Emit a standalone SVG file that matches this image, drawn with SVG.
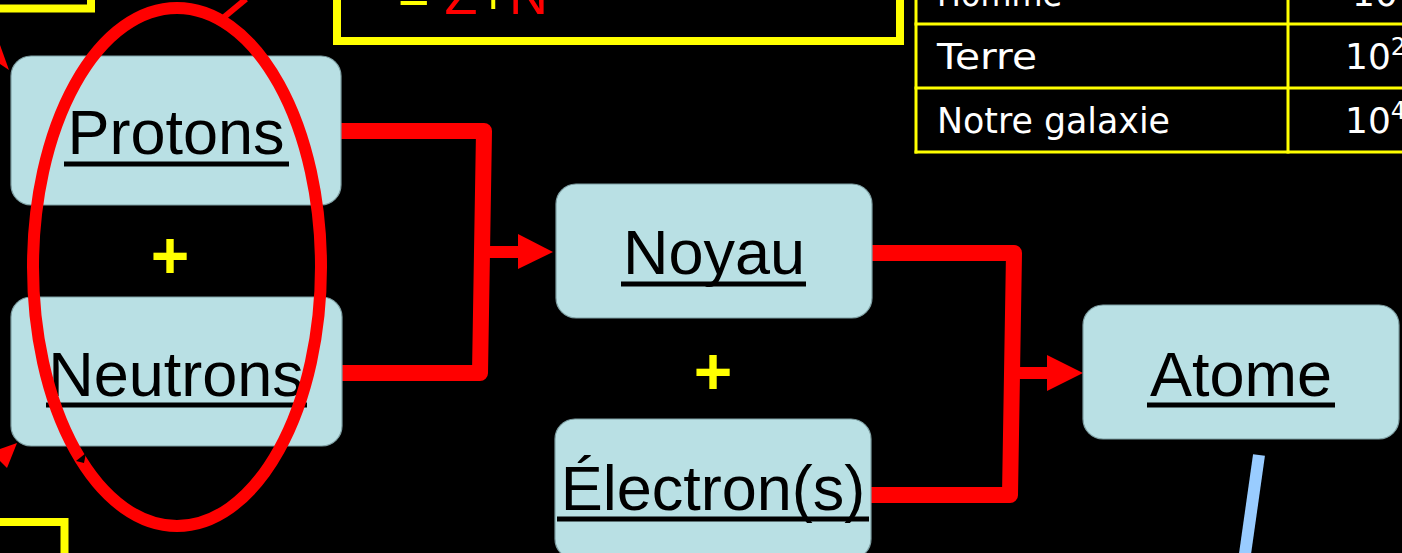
<svg xmlns="http://www.w3.org/2000/svg" width="1402" height="553" viewBox="0 0 1402 553">
<style>
.box{fill:#B9E0E4;stroke:#7E9FA3;stroke-width:1.2}
.lbl{font-family:"Liberation Sans",Arial,sans-serif;font-size:63px;fill:#000;text-anchor:middle}
.ul{stroke:#000;stroke-width:5}
.plus{font-family:"Liberation Sans",Arial,sans-serif;font-size:66px;font-weight:bold;fill:#FFFF00;text-anchor:middle}
.conn{fill:none;stroke:#FF0000;stroke-width:16;stroke-linejoin:round}
.stem{stroke:#FF0000;stroke-width:12}
.head{fill:#FF0000}
.yb{fill:none;stroke:#FFFF00;stroke-width:8}
.tl{stroke:#FFFF00;stroke-width:3}
.tt{font-family:"DejaVu Sans",sans-serif;font-size:36px;fill:#FFFFFF}
</style>
<rect x="0" y="0" width="1402" height="553" fill="#000"/>

<!-- background slide fragments -->
<g id="yellow-box-topleft"><rect class="yb" x="-100" y="-100" width="191" height="108.5"/></g>
<g id="yellow-box-top">
<rect class="yb" x="337" y="-100" width="563" height="141"/>
<text x="398" y="14" font-family="Liberation Sans,Arial,sans-serif" font-size="54"><tspan fill="#FFFF00">= </tspan><tspan fill="#FF0000">Z</tspan><tspan fill="#FFFF00">+</tspan><tspan fill="#FF0000">N</tspan></text>
</g>
<g id="yellow-box-bottomleft"><rect class="yb" x="-100" y="522" width="164.5" height="100"/></g>

<g id="table">
<line class="tl" x1="916" y1="0" x2="916" y2="153.5"/>
<line class="tl" x1="1288" y1="0" x2="1288" y2="153.5"/>
<line class="tl" x1="914.5" y1="24" x2="1402" y2="24"/>
<line class="tl" x1="914.5" y1="88" x2="1402" y2="88"/>
<line class="tl" x1="914.5" y1="152" x2="1402" y2="152"/>
<text class="tt" x="937" y="6" textLength="125" lengthAdjust="spacingAndGlyphs">Homme</text>
<text class="tt" x="937" y="69" textLength="100" lengthAdjust="spacingAndGlyphs">Terre</text>
<text class="tt" x="937" y="133" textLength="233" lengthAdjust="spacingAndGlyphs">Notre galaxie</text>
<text class="tt" x="1352" y="6">10</text>
<text class="tt" x="1345" y="69">10<tspan font-size="24" dy="-14">25</tspan></text>
<text class="tt" x="1345" y="133">10<tspan font-size="24" dy="-14">4</tspan></text>
</g>

<!-- connectors -->
<g id="connectors">
<path class="conn" d="M341,131 L484,131 L480,373 L341,373"/>
<line class="stem" x1="482" y1="252" x2="520" y2="252"/>
<polygon class="head" points="518,234 553,252 518,269"/>
<path class="conn" d="M872,253 L1014,253 L1010,495 L871,495"/>
<line class="stem" x1="1012" y1="373" x2="1049" y2="373"/>
<polygon class="head" points="1047,355 1083,373 1047,391"/>
</g>

<g id="node-protons">
<rect class="box" x="11" y="56" width="330" height="149" rx="20"/>
<text class="lbl" x="176" y="154">Protons</text>
<line class="ul" x1="64" y1="164" x2="289" y2="164"/>
</g>
<g id="plus-1"><text class="plus" x="170" y="278">+</text></g>
<g id="node-neutrons">
<rect class="box" x="11" y="297" width="331" height="149" rx="20"/>
<text class="lbl" x="176" y="396">Neutrons</text>
<line class="ul" x1="46" y1="405" x2="307" y2="405"/>
</g>
<g id="node-noyau">
<rect class="box" x="556" y="184" width="316" height="134" rx="20"/>
<text class="lbl" x="714" y="274">Noyau</text>
<line class="ul" x1="621" y1="284" x2="806" y2="284"/>
</g>
<g id="plus-2"><text class="plus" x="713" y="394">+</text></g>
<g id="node-electrons">
<rect class="box" x="555" y="419" width="316" height="140" rx="20"/>
<text class="lbl" x="713" y="510">Électron(s)</text>
<line class="ul" x1="557" y1="519" x2="869" y2="519"/>
</g>
<g id="node-atome">
<rect class="box" x="1083" y="305" width="316" height="134" rx="20"/>
<text class="lbl" x="1241" y="396">Atome</text>
<line class="ul" x1="1147" y1="405" x2="1335" y2="405"/>
</g>

<!-- overlay annotations -->
<g id="red-ellipse">
<ellipse cx="177" cy="267" rx="144" ry="259" fill="none" stroke="#FF0000" stroke-width="12"/>
<line x1="223" y1="18" x2="246" y2="-1" stroke="#FF0000" stroke-width="6"/>
<polygon points="76,461 86,453 84,463" fill="#000"/>
</g>
<polygon points="0,45 9,70 0,64" fill="#FF0000"/>
<polygon points="17,443 0,449 0,461 7,468" fill="#FF0000"/>
<line x1="1259" y1="455" x2="1245" y2="554" stroke="#99CCFF" stroke-width="12"/>
</svg>
